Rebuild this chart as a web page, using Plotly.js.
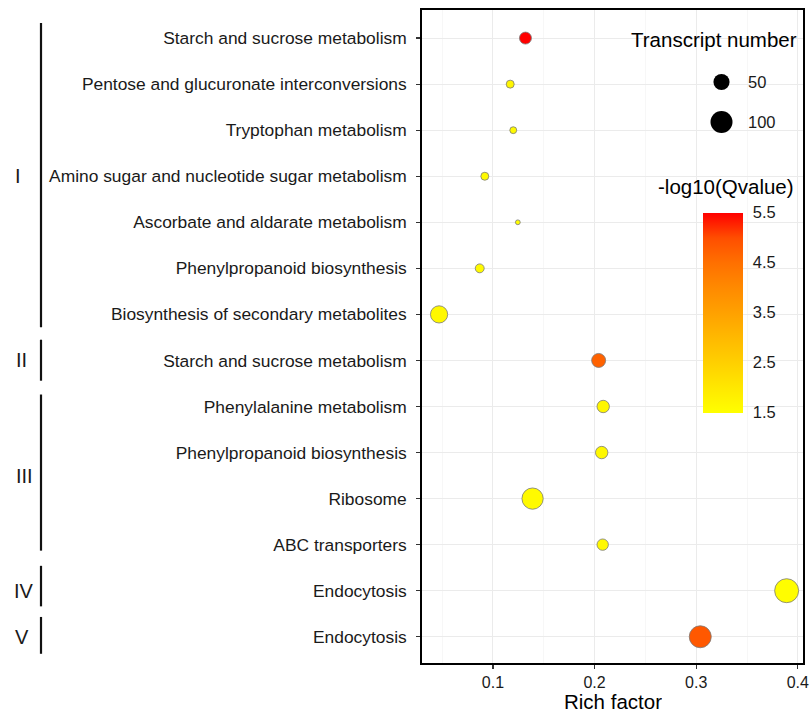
<!DOCTYPE html>
<html>
<head>
<meta charset="utf-8">
<script src="https://cdn.plot.ly/plotly-3.0.1.min.js"></script>
<style>html,body{margin:0;padding:0;background:#fff;}#chart{width:810px;height:712px;}</style>
</head>
<body>
<div id="chart"></div>
<script>
// ---------- data ----------
var pathways = [
  "Starch and sucrose metabolism",
  "Pentose and glucuronate interconversions",
  "Tryptophan metabolism",
  "Amino sugar and nucleotide sugar metabolism",
  "Ascorbate and aldarate metabolism",
  "Phenylpropanoid biosynthesis",
  "Biosynthesis of secondary metabolites",
  "Starch and sucrose metabolism",
  "Phenylalanine metabolism",
  "Phenylpropanoid biosynthesis",
  "Ribosome",
  "ABC transporters",
  "Endocytosis",
  "Endocytosis"
];
var richFactor = [0.132, 0.117, 0.120, 0.092, 0.1245, 0.087, 0.047, 0.204, 0.2085, 0.207, 0.139, 0.208, 0.389, 0.304];
var transcriptNumber = [25, 9, 6, 9, 2, 12, 58, 36, 27, 27, 93, 22, 121, 100];
var negLog10Q = [5.5, 1.7, 1.6, 1.6, 1.55, 1.6, 1.65, 4.7, 1.7, 1.65, 1.6, 1.65, 1.55, 4.85];
var groupNames = ["I", "II", "III", "IV", "V"];
var groupFirstRow = [0, 7, 8, 12, 13];
var groupLastRow = [6, 7, 11, 12, 13];
var xTickVals = [0.1, 0.2, 0.3, 0.4];
var xTickText = ["0.1", "0.2", "0.3", "0.4"];
var sizeLegendVals = [50, 100];
var colorTickVals = [1.5, 2.5, 3.5, 4.5, 5.5];
var colorTickText = ["1.5", "2.5", "3.5", "4.5", "5.5"];

// ---------- scales / style ----------
function diameter(v) { return 2 + 2 * Math.sqrt(v); }
var rowIdx = pathways.map(function (_, i) { return i; });
var FONT = "Liberation Sans, Arial, sans-serif";
var TXT = "#1A1A1A";
var colorscale = [
  [0, "#FFFF00"], [0.125, "#FFE800"], [0.25, "#FFD000"], [0.375, "#FFB900"],
  [0.5, "#FFA100"], [0.625, "#FF8A00"], [0.75, "#FF7000"], [0.875, "#FF4E00"], [1, "#FF0000"]
];
// bracket extents (style, in row units beyond first/last row of each group)
var bracketPadTop = [0.33, 0.45, 0.26, 0.54, 0.43];
var bracketPadBottom = [0.28, 0.44, 0.13, 0.34, 0.37];
var numeralX = [18, 21, 24, 24, 22];

// plot area geometry in pixels (for decorations)
var W = 810, H = 712, mL = 422, mR = 7, mT = 10, mB = 49;
var pw = W - mL - mR, ph = H - mT - mB;
function px2paperX(px) { return (px - mL) / pw; }
function px2paperY(py) { return 1 - (py - mT) / ph; }

var trace = {
  type: "scatter",
  mode: "markers",
  x: richFactor,
  y: rowIdx,
  marker: {
    size: transcriptNumber.map(diameter),
    color: negLog10Q,
    cmin: 1.5, cmax: 5.5,
    colorscale: colorscale,
    opacity: 1,
    line: { color: "#7A7A7A", width: 0.8 },
    showscale: true,
    colorbar: {
      x: px2paperX(702.5), xanchor: "left", xpad: 0,
      y: px2paperY(312.5), yanchor: "middle", ypad: 0,
      len: 200, lenmode: "pixels",
      thickness: 40, thicknessmode: "pixels",
      outlinewidth: 0,
      tickvals: colorTickVals, ticktext: colorTickText,
      ticks: "outside", ticklen: 7, tickcolor: "rgba(255,255,255,0)", tickwidth: 1,
      tickfont: { family: FONT, size: 16.5, color: TXT }
    }
  },
  hoverinfo: "x+y",
  showlegend: false
};

var shapes = [];
var annotations = [];

// white inner tick marks on the colour bar (ggplot style)
colorTickVals.forEach(function (v) {
  var py = 412.5 - (v - 1.5) / 4 * 200;
  [[702.5, 708.5], [736.5, 742.5]].forEach(function (seg) {
    shapes.push({
      type: "line", xref: "paper", yref: "paper",
      x0: px2paperX(seg[0]), x1: px2paperX(seg[1]),
      y0: px2paperY(py), y1: px2paperY(py),
      line: { color: "rgba(255,255,255,0.85)", width: 1 }
    });
  });
});

// group brackets and roman numerals
groupNames.forEach(function (g, k) {
  shapes.push({
    type: "line", xref: "paper", yref: "y",
    x0: px2paperX(41), x1: px2paperX(41),
    y0: groupFirstRow[k] - bracketPadTop[k], y1: groupLastRow[k] + bracketPadBottom[k],
    line: { color: "#111", width: 2.2 }
  });
  annotations.push({
    xref: "paper", yref: "y",
    x: px2paperX(numeralX[k]), y: (groupFirstRow[k] + groupLastRow[k]) / 2,
    text: g, showarrow: false, xanchor: "center", yanchor: "middle",
    font: { family: FONT, size: 20, color: TXT }
  });
});

// size legend
var legendCentersY = [82, 122];
sizeLegendVals.forEach(function (v, k) {
  var d = diameter(v);
  shapes.push({
    type: "circle", xref: "paper", yref: "paper",
    xsizemode: "pixel", ysizemode: "pixel",
    xanchor: px2paperX(721.5), yanchor: px2paperY(legendCentersY[k]),
    x0: -d / 2, x1: d / 2, y0: -d / 2, y1: d / 2,
    fillcolor: "#000", line: { width: 0 }
  });
  annotations.push({
    xref: "paper", yref: "paper",
    x: px2paperX(746), y: px2paperY(legendCentersY[k]),
    text: String(v), showarrow: false, xanchor: "left", yanchor: "middle",
    font: { family: FONT, size: 16.5, color: TXT }
  });
});
annotations.push({
  xref: "paper", yref: "paper", x: px2paperX(799), y: px2paperY(39),
  text: "Transcript number", showarrow: false, xanchor: "right", yanchor: "middle",
  font: { family: FONT, size: 20.5, color: "#000" }
});
annotations.push({
  xref: "paper", yref: "paper", x: px2paperX(796), y: px2paperY(186),
  text: "-log10(Qvalue)", showarrow: false, xanchor: "right", yanchor: "middle",
  font: { family: FONT, size: 20.5, color: "#000" }
});
// x axis title
annotations.push({
  xref: "paper", yref: "paper", x: px2paperX(613), y: px2paperY(701),
  text: "Rich factor", showarrow: false, xanchor: "center", yanchor: "middle",
  height: 20, valign: "middle",
  font: { family: FONT, size: 20.5, color: "#000" }
});

var layout = {
  width: W, height: H,
  margin: { l: mL, r: mR, t: mT, b: mB },
  paper_bgcolor: "#fff", plot_bgcolor: "#fff",
  font: { family: FONT, color: TXT },
  xaxis: {
    range: [0.0302, 0.4051],
    tickvals: xTickVals, ticktext: xTickText,
    showgrid: true, gridcolor: "#EBEBEB", gridwidth: 1,
    minor: { tick0: 0, dtick: 0.05, showgrid: true, gridcolor: "#F4F4F4", gridwidth: 0.7, ticks: "" },
    zeroline: false,
    ticks: "outside", ticklen: 4, tickcolor: "#333", tickwidth: 1.2,
    showline: true, mirror: true, linecolor: "#000", linewidth: 1.8,
    tickfont: { family: FONT, size: 16, color: TXT }
  },
  yaxis: {
    range: [13.57, -0.61],
    tickvals: rowIdx, ticktext: pathways,
    showgrid: true, gridcolor: "#EBEBEB", gridwidth: 1,
    zeroline: false,
    ticks: "outside", ticklen: 4, tickcolor: "#333", tickwidth: 1.2,
    showline: true, mirror: true, linecolor: "#000", linewidth: 1.8,
    tickfont: { family: FONT, size: 17.4, color: TXT },
    ticklabelstandoff: 6
  },
  shapes: shapes,
  annotations: annotations,
  showlegend: false
};

Plotly.newPlot("chart", [trace], layout, { displayModeBar: false, staticPlot: true });
</script>
</body>
</html>
